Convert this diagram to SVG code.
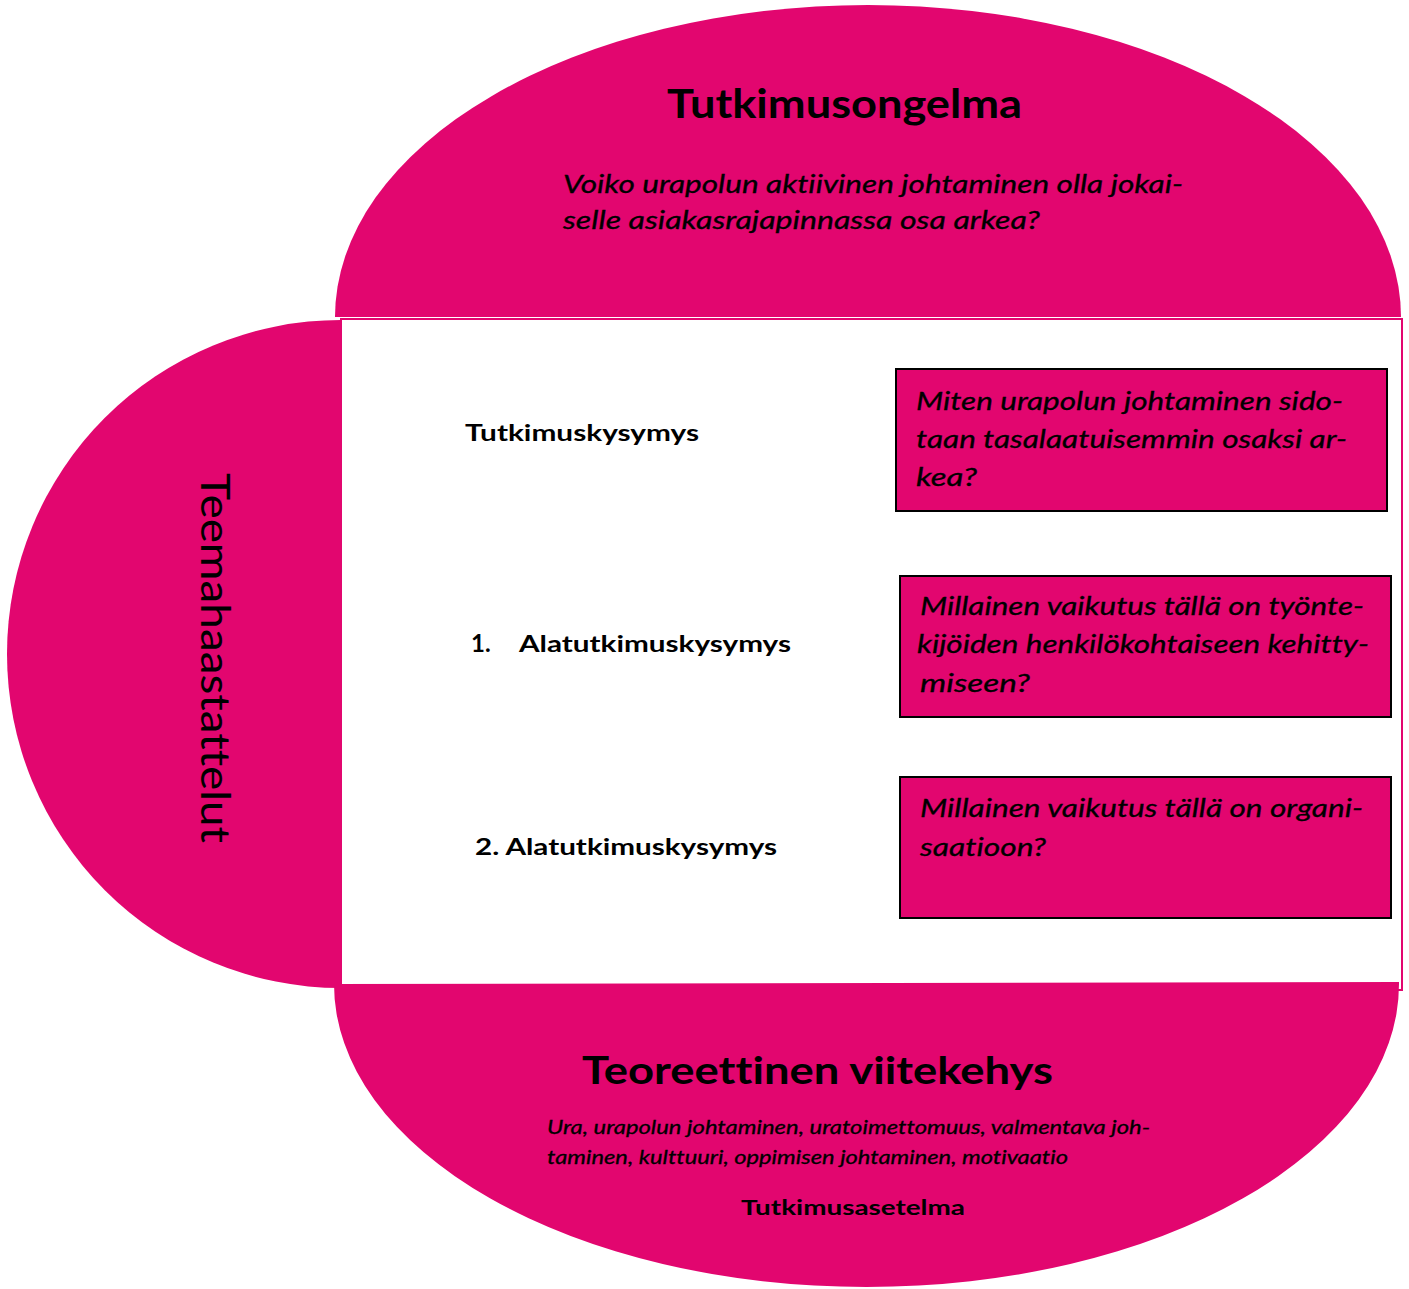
<svg xmlns="http://www.w3.org/2000/svg" width="1409" height="1289" viewBox="0 0 1409 1289">
  <style>
    .fill { fill: #E2066F; }
    .t { font-family: Lato, "Open Sans", "Liberation Sans", sans-serif; fill: #000; font-variant-ligatures: none; font-feature-settings: "liga" 0, "clig" 0, "dlig" 0; }
    .b { font-weight: bold; }
    .i { font-style: italic; stroke: #000; stroke-width: 0.3; }
    .box { fill: #E2066F; stroke: #000; stroke-width: 2; }
  </style>
  <rect width="1409" height="1289" fill="#fff"/>

  <!-- central frame -->
  <g id="frame">
    <rect x="341" y="319" width="1061" height="671" fill="#fff" stroke="#E2066F" stroke-width="2"/>
  </g>

  <!-- left half-disc: method -->
  <g id="teemahaastattelut">
    <path class="fill" d="M 341 320 L 341 988 A 334 334 0 0 1 341 320 Z"/>
    <text class="t" font-size="40" transform="translate(201,473) rotate(90)" textLength="370" lengthAdjust="spacingAndGlyphs">Teemahaastattelut</text>
  </g>

  <!-- top half-ellipse: research problem -->
  <g id="tutkimusongelma">
    <path class="fill" d="M 335 317 A 533 312 0 0 1 1401 317 Z"/>
    <text class="t b" font-size="40" x="667" y="118" textLength="355" lengthAdjust="spacingAndGlyphs">Tutkimusongelma</text>
    <text class="t i" font-size="25" x="563" y="193" textLength="620" lengthAdjust="spacingAndGlyphs">Voiko urapolun aktiivinen johtaminen olla jokai-</text>
    <text class="t i" font-size="25" x="563" y="229" textLength="477" lengthAdjust="spacingAndGlyphs">selle asiakasrajapinnassa osa arkea?</text>
  </g>

  <!-- bottom half-ellipse: theoretical framework -->
  <g id="viitekehys">
    <path class="fill" d="M 334 986 L 334 984 L 1399 982 L 1399 984 A 532.5 303 0 0 1 334 984 Z"/>
    <text class="t b" font-size="38" x="582" y="1084" textLength="471" lengthAdjust="spacingAndGlyphs">Teoreettinen viitekehys</text>
    <text class="t i" font-size="19" x="547" y="1134" textLength="603" lengthAdjust="spacingAndGlyphs">Ura, urapolun johtaminen, uratoimettomuus, valmentava joh-</text>
    <text class="t i" font-size="19" x="547" y="1164" textLength="521" lengthAdjust="spacingAndGlyphs">taminen, kulttuuri, oppimisen johtaminen, motivaatio</text>
    <text class="t b" font-size="21" x="741" y="1215" textLength="224" lengthAdjust="spacingAndGlyphs">Tutkimusasetelma</text>
  </g>

  <!-- question labels -->
  <g id="label-main">
    <text class="t b" font-size="22" x="465" y="441" textLength="234" lengthAdjust="spacingAndGlyphs">Tutkimuskysymys</text>
  </g>
  <g id="label-sub1">
    <text class="t b" font-size="24" x="471" y="652">1.</text>
    <text class="t b" font-size="22" x="519" y="652" textLength="272" lengthAdjust="spacingAndGlyphs">Alatutkimuskysymys</text>
  </g>
  <g id="label-sub2">
    <text class="t b" font-size="22" x="475" y="855" textLength="302" lengthAdjust="spacingAndGlyphs">2. Alatutkimuskysymys</text>
  </g>

  <!-- question boxes -->
  <g id="box-main">
    <rect class="box" x="896" y="369" width="491" height="142"/>
    <text class="t i" font-size="26" x="916" y="410" textLength="427" lengthAdjust="spacingAndGlyphs">Miten urapolun johtaminen sido-</text>
    <text class="t i" font-size="26" x="916" y="448" textLength="431" lengthAdjust="spacingAndGlyphs">taan tasalaatuisemmin osaksi ar-</text>
    <text class="t i" font-size="26" x="916" y="486" textLength="61" lengthAdjust="spacingAndGlyphs">kea?</text>
  </g>
  <g id="box-sub1">
    <rect class="box" x="900" y="576" width="491" height="141"/>
    <text class="t i" font-size="26" x="920" y="615" textLength="444" lengthAdjust="spacingAndGlyphs">Millainen vaikutus tällä on työnte-</text>
    <text class="t i" font-size="26" x="917" y="653" textLength="452" lengthAdjust="spacingAndGlyphs">kijöiden henkilökohtaiseen kehitty-</text>
    <text class="t i" font-size="26" x="920" y="692" textLength="110" lengthAdjust="spacingAndGlyphs">miseen?</text>
  </g>
  <g id="box-sub2">
    <rect class="box" x="900" y="777" width="491" height="141"/>
    <text class="t i" font-size="26" x="920" y="817" textLength="443" lengthAdjust="spacingAndGlyphs">Millainen vaikutus tällä on organi-</text>
    <text class="t i" font-size="26" x="920" y="856" textLength="126" lengthAdjust="spacingAndGlyphs">saatioon?</text>
  </g>

  <!-- no connectors in this layout -->
  <g id="connectors"/>
</svg>
